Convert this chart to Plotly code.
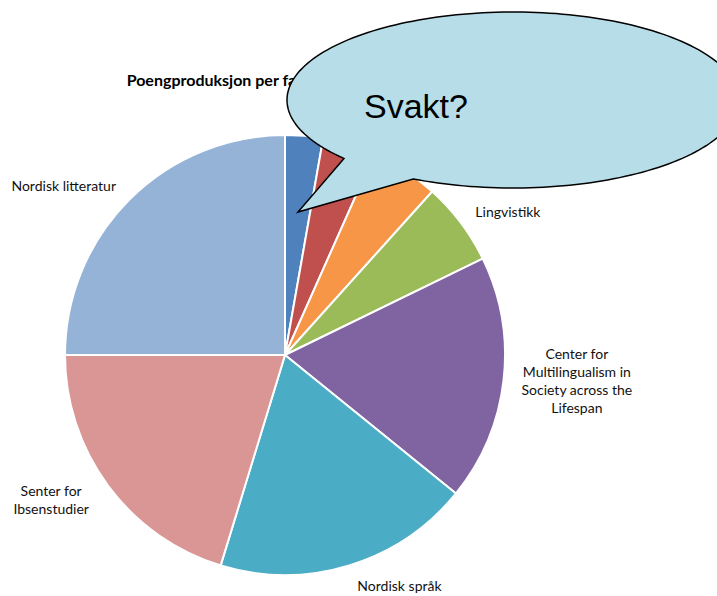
import numpy as np
import plotly.graph_objects as go

W, H = 717, 596

# ---- data ----
labels = [
    "Middelalderfilologi",
    "Tegnspråk",
    "Norsk som andrespråk",
    "Lingvistikk",
    "Center for<br>Multilingualism in<br>Society across the<br>Lifespan",
    "Nordisk språk",
    "Senter for<br>Ibsenstudier",
    "Nordisk litteratur",
]
values = [10, 14, 18, 22, 65, 68, 73, 90]
colors = ["#4F81BD", "#C0504D", "#F79646", "#9BBB59",
          "#8064A2", "#4BACC6", "#D99694", "#95B3D7"]
title_text = "Poengproduksjon per fagmiljø"
callout_text = "Svakt?"

# labels drawn close to the pie vs. a little further out (as in the original)
near = [i == 4 for i in range(len(labels))]

def px(x, y):
    return x / W, 1 - y / H

PCX, PCY, R = 285, 355, 220   # pie placement (pixels)

def pie_domain(r):
    return dict(x=[(PCX - r) / W, (PCX + r) / W],
                y=[(H - PCY - r) / H, (H - PCY + r) / H])

fig = go.Figure()

fig.add_trace(go.Pie(
    labels=labels, values=values, sort=False, direction="clockwise", rotation=0,
    marker=dict(colors=colors, line=dict(color="white", width=2)),
    text=[l if n else "" for l, n in zip(labels, near)],
    textinfo="text", textposition="outside", automargin=False,
    textfont=dict(family="Lato", size=14, color="#111"),
    domain=pie_domain(R),
    showlegend=False, hoverinfo="label+value",
))

# label ring (transparent) placing the remaining labels slightly further out
fig.add_trace(go.Pie(
    labels=labels, values=values, sort=False, direction="clockwise", rotation=0,
    marker=dict(colors=["rgba(0,0,0,0)"] * len(values), line=dict(width=0)),
    text=[l if not n else "" for l, n in zip(labels, near)],
    textinfo="text", textposition="outside", automargin=False,
    textfont=dict(family="Lato", size=14, color="#111"),
    domain=pie_domain(R + 13),
    showlegend=False, hoverinfo="skip",
))

# title trace (draws only its title; sits under the callout)
tcx = 233
tcy = 95
fig.add_trace(go.Pie(
    values=[1], labels=[""], sort=False, automargin=False,
    marker=dict(colors=["rgba(0,0,0,0)"], line=dict(width=0)),
    textinfo="none", hoverinfo="skip", showlegend=False,
    title=dict(text="<b>" + title_text + "</b>", position="top center",
               font=dict(family="Lato", size=16, color="#000")),
    domain=dict(x=[(tcx - 200) / W, (tcx + 200) / W],
                y=[(H - tcy - 25) / H, (H - tcy + 25) / H]),
))

# callout bubble
cx, cy, rx, ry = 513, 100, 226, 88
t = np.radians(np.linspace(116.2, 138.4 - 360, 200))
xs = cx + rx * np.cos(t)
ys = cy + ry * np.sin(t)
pts = [px(a, b) for a, b in zip(xs, ys)]
pts.append(px(298, 212))
path = "M " + " L ".join(f"{a:.5f},{b:.5f}" for a, b in pts) + " Z"
fig.add_shape(type="path", path=path, xref="paper", yref="paper",
              fillcolor="#B7DEE8", line=dict(color="black", width=1.5), layer="above")

fig.add_annotation(text=callout_text, x=416 / W, y=1 - 106 / H, xref="paper", yref="paper",
                   showarrow=False, xanchor="center", yanchor="middle",
                   font=dict(family="Liberation Sans", size=34, color="black"))

fig.update_layout(width=W, height=H, margin=dict(l=0, r=0, t=0, b=0, autoexpand=False),
                  paper_bgcolor="white", plot_bgcolor="white", autosize=False)
fig.write_html("out.html",
               config={"responsive": False, "displayModeBar": False},
               post_script="document.body.style.margin='0px';")
